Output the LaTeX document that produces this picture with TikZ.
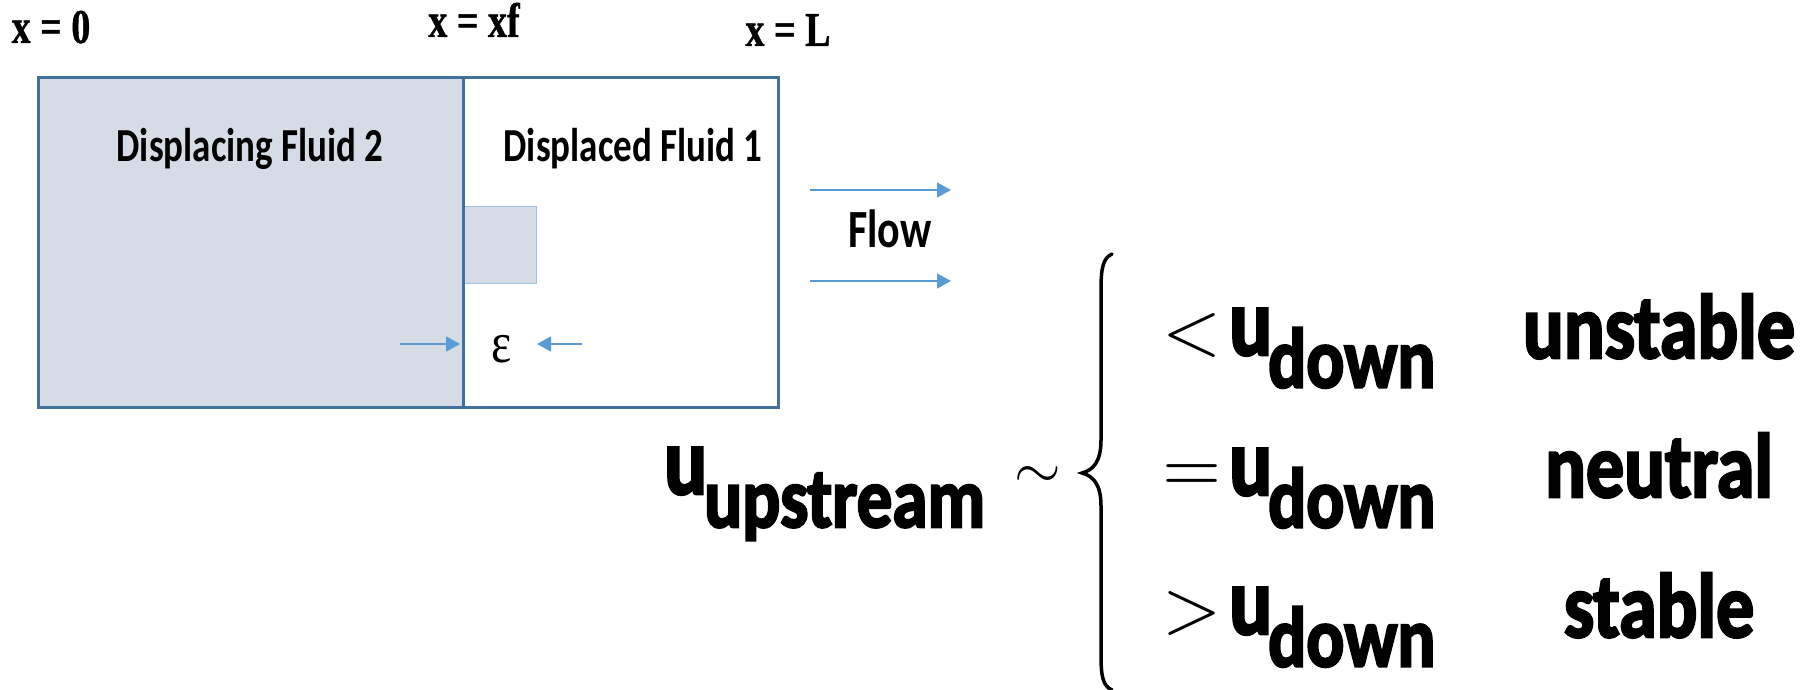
\documentclass[tikz,border=0pt]{standalone}
\usepackage{fontspec}
\setmainfont{Carlito}
\newfontfamily\heavyfont{Carlito}[BoldFeatures={FakeBold=3}]
\newfontfamily\timesf{Liberation Serif}[BoldFeatures={FakeBold=1}]
\usetikzlibrary{arrows.meta}
\definecolor{edgeblue}{HTML}{41719C}
\definecolor{fluidfill}{HTML}{D6DCE5}
\definecolor{arrowblue}{HTML}{5B9BD5}
\definecolor{fingeredge}{HTML}{9DC3E6}
\newcommand{\setfs}[1]{\fontsize{#1}{#1}\selectfont}
\newcommand{\tallsm}[1]{\scalebox{1}[1.28]{#1}}
\newcommand{\tallbig}[1]{\scalebox{1}[1.2]{#1}}
\begin{document}
\begin{tikzpicture}[x=1pt,y=-1pt,
  region/.style={draw=edgeblue, line width=3pt, inner sep=0pt, anchor=north west},
  bluearrow/.style={draw=arrowblue, line width=1.6pt, -{Triangle[length=14pt,width=15pt]}},
  coordlabel/.style={font=\timesf\bfseries\setfs{38}, anchor=base, inner sep=0pt},
  fluidlabel/.style={font=\bfseries\setfs{37}, anchor=base, inner sep=0pt},
  relsym/.style={anchor=base, inner sep=0pt},
  speed/.style={anchor=base west, inner sep=0pt, font=\heavyfont\bfseries\setfs{80}},
  bigtext/.style={font=\heavyfont\bfseries\setfs{76}, anchor=base, inner sep=0pt},
]
\useasboundingbox (0,0) rectangle (1814,690);
% regions
\node[region, fill=white, minimum width=315pt, minimum height=330pt] (fluid1) at (462,76) {};
\node[draw=fingeredge, line width=1pt, fill=fluidfill, inner sep=0pt, anchor=north west,
      minimum width=74pt, minimum height=77pt] (finger) at (462,206) {};
\node[region, fill=fluidfill, minimum width=425pt, minimum height=330pt] (fluid2) at (37,76) {};
% coordinate labels
\node[coordlabel] (x0) at (51,43) {\tallsm{x = 0}};
\node[coordlabel] (xf) at (474,37) {\tallsm{x = xf}};
\node[coordlabel] (xL) at (788,46) {\tallsm{x = L}};
% fluid labels
\node[fluidlabel] (lab2) at (250,161) {\tallsm{Displacing Fluid 2}};
\node[fluidlabel] (lab1) at (633,161) {\tallsm{Displaced Fluid 1}};
% epsilon
\coordinate (epsLtail) at (400,344);
\coordinate (epsLtip) at (460,344);
\coordinate (epsRtail) at (582,344);
\coordinate (epsRtip) at (537,344);
\node[font=\timesf\setfs{48}, anchor=base, inner sep=0pt] (eps) at (502,362) {\scalebox{1}[1.2]{ε}};
\draw[bluearrow] (epsLtail) -- (epsLtip);
\draw[bluearrow] (epsRtail) -- (epsRtip);
% flow
\coordinate (f1s) at (810,190); \coordinate (f1e) at (951,190);
\coordinate (f2s) at (810,281); \coordinate (f2e) at (951,281);
\draw[bluearrow] (f1s) -- (f1e);
\draw[bluearrow] (f2s) -- (f2e);
\node[font=\bfseries\setfs{42}, anchor=base west, inner sep=0pt] (flow) at (848,247) {\tallsm{Flow}};
% upstream
\node[speed] (uup) at (664,494) {\tallbig{u\kern-3pt\raisebox{-27.5pt}{\setfs{71}upstream}}};
\node[inner sep=0pt] (sim) at (1038,477) {\scalebox{6}{$\sim$}};
% brace
\draw[line width=3.5pt, line cap=round] (1112,254) .. controls (1103,258) and (1101,268) .. (1101,290)
  -- (1101,440) .. controls (1101,462) and (1093,470) .. (1082,473)
  .. controls (1093,476) and (1101,484) .. (1101,506)
  -- (1101,655) .. controls (1101,677) and (1103,686) .. (1112,690);
% rows
\node[relsym] (lt) at (1192,354) {\scalebox{7.6}{$<$}};
\node[relsym] (eq) at (1192,492) {\scalebox{7.6}{$=$}};
\node[relsym] (gt) at (1192,632) {\scalebox{7.6}{$>$}};
\node[speed] (ud1) at (1229,355) {\tallbig{u\kern-4pt\raisebox{-27pt}{\setfs{71}down}}};
\node[speed] (ud2) at (1229,495) {\tallbig{u\kern-4pt\raisebox{-27pt}{\setfs{71}down}}};
\node[speed] (ud3) at (1229,634) {\tallbig{u\kern-4pt\raisebox{-27pt}{\setfs{71}down}}};
\node[bigtext] (unstable) at (1659,358) {\tallbig{unstable}};
\node[bigtext] (neutral) at (1659,497) {\tallbig{neutral}};
\node[bigtext] (stable) at (1659,637) {\tallbig{stable}};
\end{tikzpicture}
\end{document}
